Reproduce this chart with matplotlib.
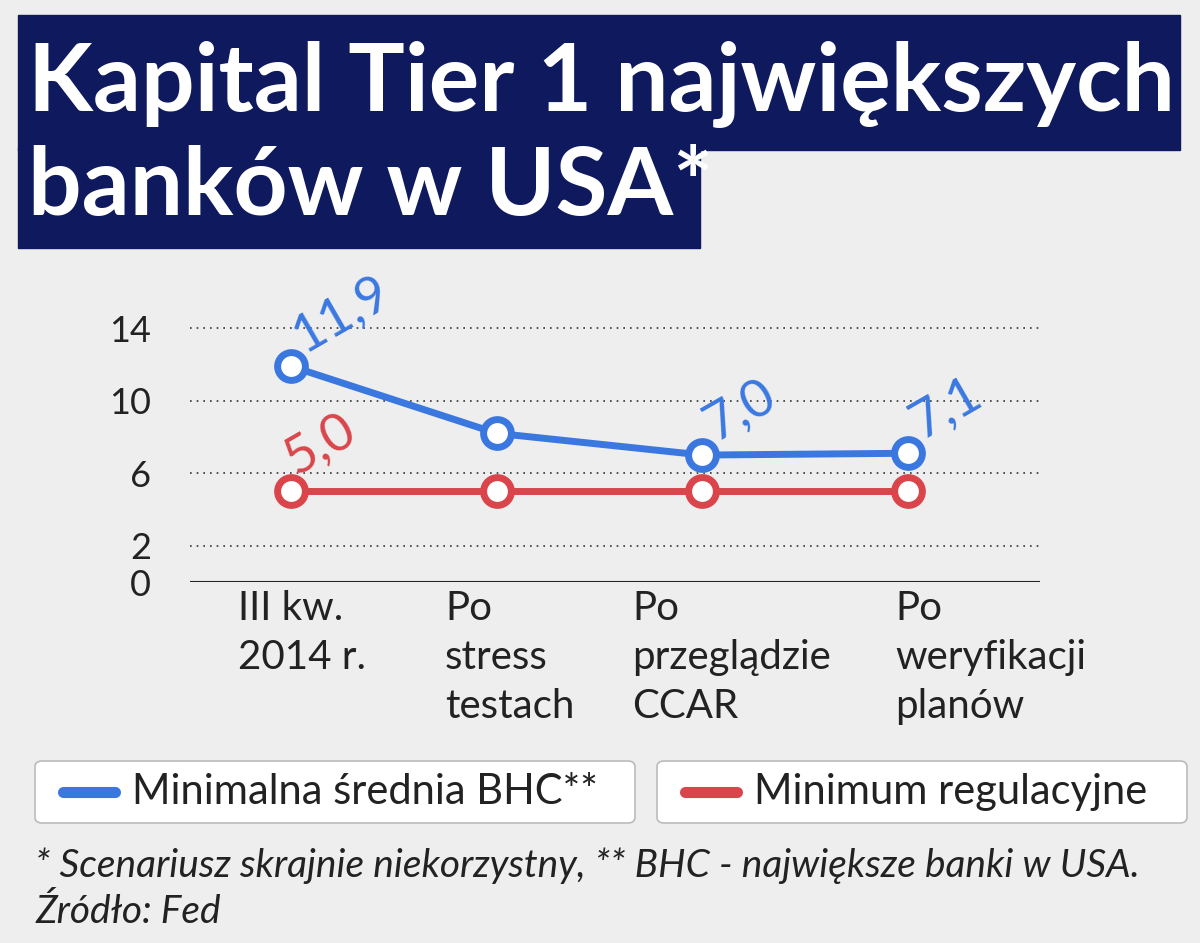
import matplotlib.pyplot as plt
from matplotlib.patches import Rectangle, FancyBboxPatch

plt.rcParams['font.family'] = ['Lato', 'DejaVu Sans']

categories = ['III kw.\n2014 r.', 'Po\nstress\ntestach', 'Po\nprzeglądzie\nCCAR', 'Po\nweryfikacji\nplanów']
bhc = [11.9, 8.2, 7.0, 7.1]
minimum = [5.0, 5.0, 5.0, 5.0]
bhc_labels = {0: '11,9', 2: '7,0', 3: '7,1'}
yticks = [0, 2, 6, 10, 14]
blue = '#3a78e0'
red = '#d9454a'
navy = '#0f1a5e'

fig = plt.figure(figsize=(12, 9.43), dpi=100)
fig.patch.set_facecolor('#eeeeee')

# title boxes
fig.patches.append(Rectangle((18/1200, 1-150/943), 1162/1200, 135/943, transform=fig.transFigure, color=navy))
fig.patches.append(Rectangle((18/1200, 1-248/943), 682/1200, 100/943, transform=fig.transFigure, color=navy))
fig.text(28/1200, 1-85/943, 'Kapital Tier 1 największych', color='white', fontsize=68, fontweight='bold', va='center')
fig.text(28/1200, 1-188/943, 'banków w USA*', color='white', fontsize=68, fontweight='bold', va='center')

ax = fig.add_axes([190/1200, 361/943, 850/1200, 272/943])
ax.set_facecolor('none')
x = list(range(len(categories)))
ax.set_xlim(-0.49, 3.64)
ax.set_ylim(0, 15)
for t in yticks[1:]:
    ax.axhline(t, color='#333333', ls=(0, (1, 3)), lw=1.2, zorder=0)
ax.axhline(0, color='#222222', lw=1.5)
for s in ax.spines.values():
    s.set_visible(False)
ax.set_yticks(yticks)
ax.set_yticklabels([str(t) for t in yticks], fontsize=26, color='#222222')
ax.tick_params(axis='y', length=0, pad=28)
ax.set_xticks([])

ax.plot(x, minimum, color=red, lw=5, marker='o', ms=20, mfc='white', mec=red, mew=5, zorder=3)
ax.plot(x, bhc, color=blue, lw=5, marker='o', ms=20, mfc='white', mec=blue, mew=5, zorder=4)
for i, lab in bhc_labels.items():
    ax.text(x[i] - 0.03, bhc[i] + 0.3, lab, color=blue, fontsize=38, rotation=30, ha='left', va='bottom')
ax.text(x[0] - 0.07, minimum[0] + 0.4, '5,0', color=red, fontsize=38, rotation=30, ha='left', va='bottom')

label_x = [238, 445, 632, 895]
for lx, c in zip(label_x, categories):
    fig.text(lx/1200, 1-590/943, c, fontsize=29, color='#222222', va='top', ha='left', linespacing=1.4)

# legend boxes
for (x0, w, col, txt) in [(35, 600, blue, 'Minimalna średnia BHC**'), (657, 530, red, 'Minimum regulacyjne')]:
    fig.patches.append(FancyBboxPatch((x0/1200, 1-823/943), w/1200, 62/943, boxstyle='round,pad=0,rounding_size=0.006',
                                      transform=fig.transFigure, fc='white', ec='#bbbbbb', lw=1.2))
    fig.lines.append(plt.Line2D([(x0+28)/1200, (x0+80)/1200], [1-792/943]*2, transform=fig.transFigure, color=col, lw=8, solid_capstyle='round'))
    fig.text((x0+97)/1200, 1-792/943, txt, fontsize=30, color='#222222', va='center')

fig.text(35/1200, 1-866/943, '* Scenariusz skrajnie niekorzystny, ** BHC - największe banki w USA.', fontsize=28, style='italic', color='#222222', va='center')
fig.text(35/1200, 1-912/943, 'Źródło: Fed', fontsize=28, style='italic', color='#222222', va='center')

fig.savefig('out.png', dpi=100, facecolor=fig.get_facecolor())
